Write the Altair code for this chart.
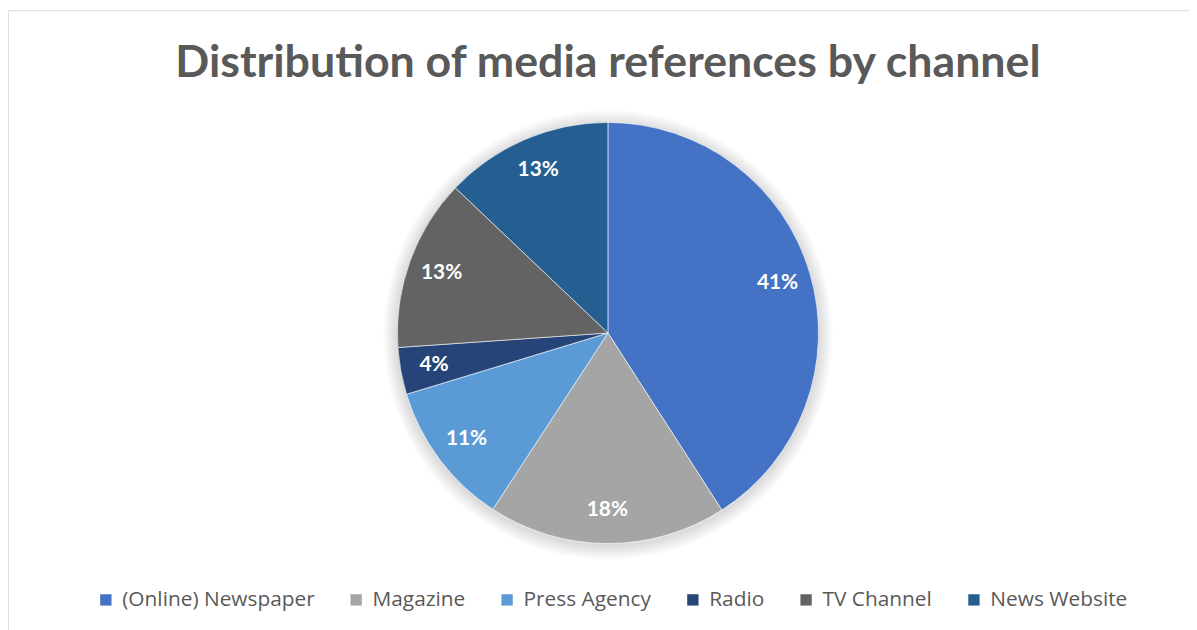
import altair as alt
import pandas as pd

channels = ["(Online) Newspaper", "Magazine", "Press Agency", "Radio", "TV Channel", "News Website"]
shares = [40.9, 18.3, 11.1, 3.6, 13.2, 12.9]
colors = ["#4472C4", "#A5A5A5", "#5B9BD5", "#264478", "#636363", "#255E91"]
title_text = "Distribution of media references by channel"

df = pd.DataFrame({"channel": channels, "share": shares, "idx": list(range(len(channels)))})

W, H = 1189, 640
CX, CY = 604, 325
R = 212
FONT = "Lato"

color = alt.Color(
    "channel:N",
    scale=alt.Scale(domain=channels, range=colors),
    sort=channels,
    legend=alt.Legend(
        orient="none", direction="horizontal", legendX=88, legendY=583,
        title=None, symbolType="square", symbolSize=130, symbolStrokeWidth=0,
        labelFont="Open Sans", labelFontSize=21, labelColor="#595959", labelOffset=6,
        columnPadding=31, columns=6, labelLimit=400,
    ),
)

base = alt.Chart(df).encode(
    theta=alt.Theta("share:Q", stack=True),
    order=alt.Order("idx:Q"),
    x=alt.value(CX), y=alt.value(CY),
)

shadow_layers = []
for k in range(1, 8):
    shadow_layers.append(
        alt.Chart(pd.DataFrame({"a": [0]})).mark_arc(
            radius=R + 2 * k, theta=0, theta2=6.2832, color="#000000", opacity=0.018
        ).encode(x=alt.value(CX), y=alt.value(CY + 2))
    )

pie = base.mark_arc(radius=R, stroke="#ffffff", strokeWidth=0.6).encode(color=color)

labels = base.transform_calculate(
    lbl="round(datum.share) + '%'"
).mark_text(radius=178, font=FONT, fontSize=21, fontWeight="bold", color="#ffffff").encode(
    text="lbl:N"
)

title = alt.Chart(pd.DataFrame({"t": [title_text]})).mark_text(
    font=FONT, fontSize=45, fontWeight="bold", color="#595959", baseline="alphabetic", align="center"
).encode(text="t:N", x=alt.value(CX), y=alt.value(67))

chart = alt.layer(*shadow_layers, pie, labels, title).properties(
    width=W, height=H, padding=0, autosize=alt.AutoSizeParams(type="none")
).configure_view(stroke="#d9d9d9", strokeWidth=1.2).configure(background="#ffffff")

chart.save("out.html", embed_options={"renderer": "svg", "actions": False})
